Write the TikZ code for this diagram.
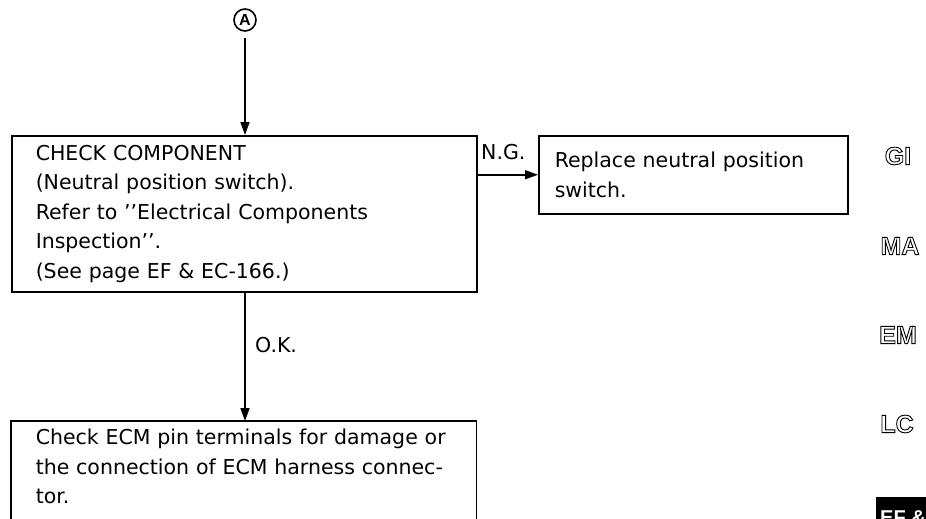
\documentclass[tikz,border=0pt]{standalone}
\usepackage{fontspec}
\setmainfont{DejaVu Sans}
\newfontfamily\tabfont{Liberation Sans}
\usetikzlibrary{arrows.meta}
\newcommand{\outl}[1]{\special{pdf:literal direct 1 Tr 0.9 w}#1\special{pdf:literal direct 0 Tr}}
\newcommand{\sq}{’{}’}
\tikzset{
  box/.style={draw, line width=1.5pt, inner xsep=24pt, inner ysep=0pt, align=left,
    font=\fontsize{20.5}{29.5}\selectfont, anchor=north west},
  lbl/.style={inner sep=0pt, font=\fontsize{20.5}{24}\selectfont},
  arr/.style={line width=1.5pt, -{Triangle[length=13pt,width=9pt]}},
  tab/.style={inner sep=0pt, font=\tabfont\bfseries\fontsize{25}{28}\selectfont},
}
\begin{document}
\begin{tikzpicture}[x=1pt,y=-1pt]
\useasboundingbox (0,0) rectangle (926,519);
\node[draw, circle, line width=1.6pt, minimum size=22pt, inner sep=0pt,
  font=\tabfont\bfseries\fontsize{16}{16}\selectfont] (A) at (245,20) {A};
\node[box, text width=417pt, minimum height=156pt] (b1) at (11,135)
  {CHECK COMPONENT\\(Neutral position switch).\\Refer to \sq Electrical Components\\Inspection\sq.\\(See page EF \& EC-166.)};
\node[box, text width=277pt, minimum height=78pt, inner xsep=16pt] (b2) at (538,135)
  {Replace neutral position\\switch.};
\node[box, draw=none, text width=416pt, minimum height=100pt, text height=16pt, text depth=70pt, inner ysep=0pt] (b3) at (11,421)
  {Check ECM pin terminals for damage or\\the connection of ECM harness connec-\\tor.};
\draw[line width=1.5pt] ([yshift=-140pt]b3.north west) -- (b3.north west) -- (b3.north east) -- ([yshift=-140pt]b3.north east);
\draw[arr, shorten <=6pt] (A.south) -- (b1.north -| A.south);
\draw[arr] (b2.west -| b1.east) -- (b2.west);
\draw[arr] (b1.south -| A.south) -- (b3.north -| A.south);
\node[lbl, anchor=south west] (ng) at (481,160) {N.G.};
\node[lbl, anchor=west] (ok) at (255,345) {O.K.};
\node[tab] (gi) at (898,156) {\outl{GI}};
\node[tab] (ma) at (900,246) {\outl{MA}};
\node[tab] (em) at (898,335) {\outl{EM}};
\node[tab] (lc) at (897,424) {\outl{LC}};
\fill (876,497) rectangle (930,525);
\node[tab, text=white, anchor=base west, font=\tabfont\bfseries\fontsize{20}{22}\selectfont] (ef) at (880,524) {EF \&};
\end{tikzpicture}
\end{document}
